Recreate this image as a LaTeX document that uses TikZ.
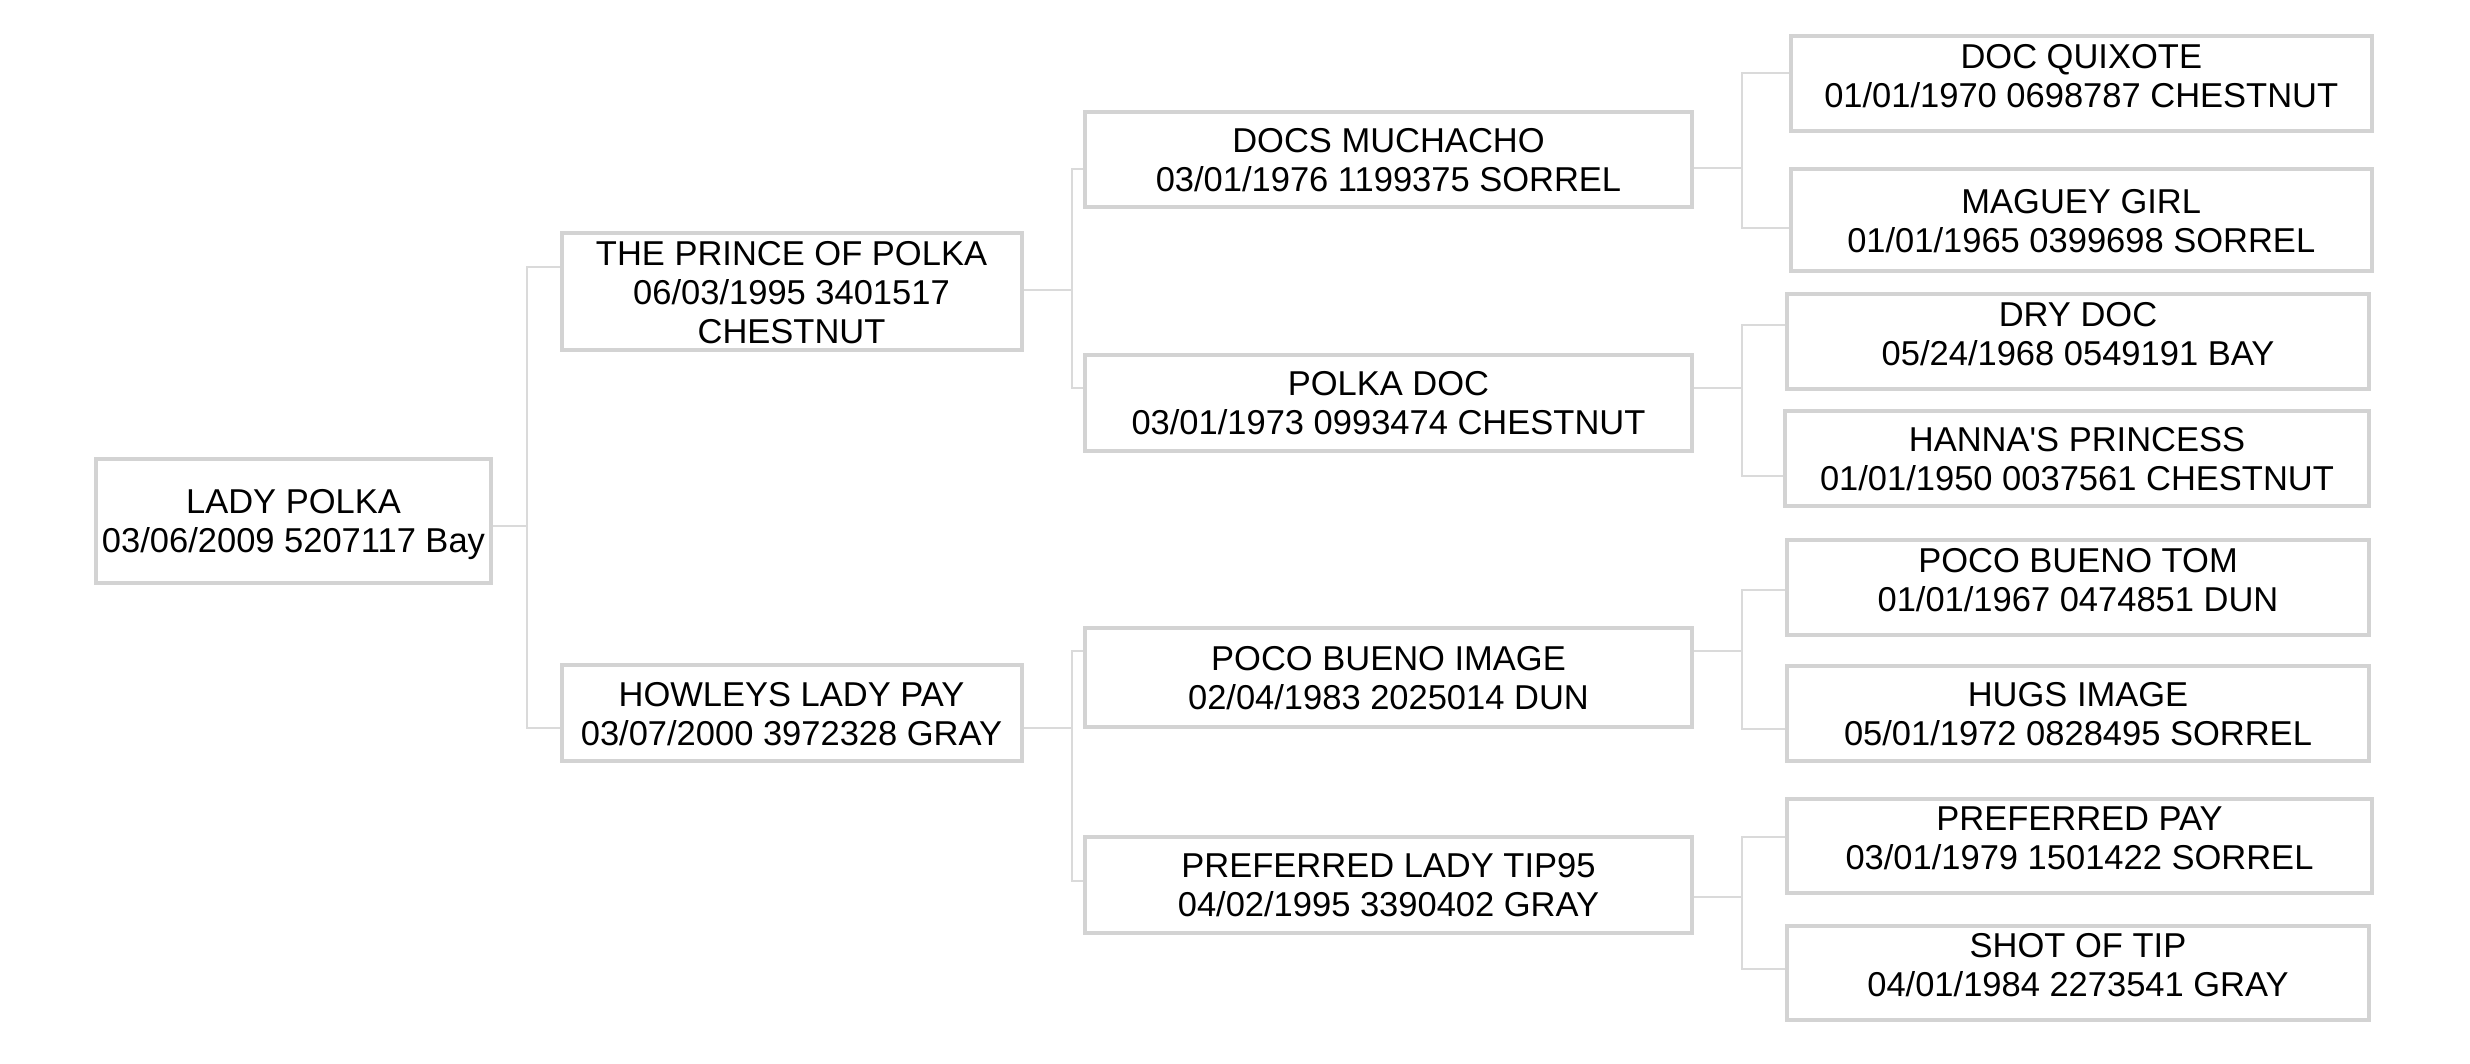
\documentclass[tikz,border=0pt]{standalone}
\usepackage{fontspec}
\setmainfont{Liberation Sans}
\definecolor{boxgray}{HTML}{D3D3D3}
\definecolor{linegray}{HTML}{DADADA}
\newcommand\pedlines[1]{\vtop{\baselineskip=39pt\lineskiplimit=-100pt\lineskip=0pt\halign{\hfil##\hfil\cr#1\crcr}}}
\newcommand\sq{\XeTeXglyph\XeTeXcharglyph"0027\relax}
\tikzset{
  horse/.style={draw=boxgray, line width=4pt, rectangle, inner sep=0pt,
    text=black, text height=24.7pt, text depth=39pt,
    font=\fontsize{34.5}{39}\selectfont},
  horse3/.style={horse, text depth=78pt},
  horsehi/.style={horse, text depth=55pt},
  conn/.style={draw=linegray, line width=2pt},
}
\begin{document}
\begin{tikzpicture}[x=1pt,y=-1pt]
\fill[white] (0,0) rectangle (2470,1064);
\useasboundingbox (0,0) rectangle (2470,1064);

% generation 0
\node[horse, minimum width=395pt, minimum height=124pt] (lp) at (293.5,520.5)
  {\pedlines{LADY POLKA\cr 03/06/2009 5207117 Bay}};

% generation 1
\node[horse3, minimum width=460pt, minimum height=117pt] (prince) at (791.5,292)
  {\pedlines{THE PRINCE OF POLKA\cr 06/03/1995 3401517\cr CHESTNUT}};
\node[horse, minimum width=460pt, minimum height=96.5pt] (howleys) at (791.5,713.2)
  {\pedlines{HOWLEYS LADY PAY\cr 03/07/2000 3972328 GRAY}};

% generation 2
\node[horse, minimum width=607pt, minimum height=95pt] (dm) at (1388.5,160)
  {\pedlines{DOCS MUCHACHO\cr 03/01/1976 1199375 SORREL}};
\node[horse, minimum width=607pt, minimum height=95pt] (pd) at (1388.5,403)
  {\pedlines{POLKA DOC\cr 03/01/1973 0993474 CHESTNUT}};
\node[horse, minimum width=607pt, minimum height=98.5pt] (pbi) at (1388.5,677.7)
  {\pedlines{POCO BUENO IMAGE\cr 02/04/1983 2025014 DUN}};
\node[horse, minimum width=607pt, minimum height=96pt] (plt) at (1388.5,885)
  {\pedlines{PREFERRED LADY TIP95\cr 04/02/1995 3390402 GRAY}};

% generation 3
\node[horsehi, minimum width=581.5pt, minimum height=94.5pt] (dq) at (2081.25,83.75)
  {\pedlines{DOC QUIXOTE\cr 01/01/1970 0698787 CHESTNUT}};
\node[horse, minimum width=581.5pt, minimum height=101.5pt] (mg) at (2081.25,220.25)
  {\pedlines{MAGUEY GIRL\cr 01/01/1965 0399698 SORREL}};
\node[horsehi, minimum width=582pt, minimum height=94.5pt] (dd) at (2078,341.25)
  {\pedlines{DRY DOC\cr 05/24/1968 0549191 BAY}};
\node[horse, minimum width=584pt, minimum height=95.5pt] (hp) at (2077,458.25)
  {\pedlines{HANNA\sq S PRINCESS\cr 01/01/1950 0037561 CHESTNUT}};
\node[horsehi, minimum width=582pt, minimum height=95.5pt] (pbt) at (2078,587.25)
  {\pedlines{POCO BUENO TOM\cr 01/01/1967 0474851 DUN}};
\node[horse, minimum width=582pt, minimum height=95pt] (hi) at (2078,713.5)
  {\pedlines{HUGS IMAGE\cr 05/01/1972 0828495 SORREL}};
\node[horsehi, minimum width=585pt, minimum height=94pt] (pp) at (2079.5,845.5)
  {\pedlines{PREFERRED PAY\cr 03/01/1979 1501422 SORREL}};
\node[horsehi, minimum width=582pt, minimum height=94.5pt] (st) at (2078,972.75)
  {\pedlines{SHOT OF TIP\cr 04/01/1984 2273541 GRAY}};

% fork points (x of the vertical, y of the parent line)
\coordinate (k1) at (527,526.3);
\coordinate (k2) at (1071.7,290);
\coordinate (k3) at (1071.7,727.8);
\coordinate (k4) at (1742.3,168.5);
\coordinate (k5) at (1742.3,388.3);
\coordinate (k6) at (1742.3,650.5);
\coordinate (k7) at (1742.3,897.3);
% heights where the lines meet the children
\coordinate (yprince) at (0,266.6);
\coordinate (yhowleys) at (0,728);
\coordinate (ydm) at (0,169);
\coordinate (ypd) at (0,388.3);
\coordinate (ypbi) at (0,650.5);
\coordinate (yplt) at (0,880.6);
\coordinate (ydq) at (0,72.7);
\coordinate (ymg) at (0,228.3);
\coordinate (ydd) at (0,325);
\coordinate (yhp) at (0,476.2);
\coordinate (ypbt) at (0,589.7);
\coordinate (yhi) at (0,728.5);
\coordinate (ypp) at (0,837.3);
\coordinate (yst) at (0,969.3);

% connectors
\draw[conn] (lp.east |- k1) -- (k1);
\draw[conn] (prince.west |- yprince) -| (k1) |- (howleys.west |- yhowleys);

\draw[conn] (prince.east |- k2) -- (k2);
\draw[conn] (dm.west |- ydm) -| (k2) |- (pd.west |- ypd);

\draw[conn] (howleys.east |- k3) -- (k3);
\draw[conn] (pbi.west |- ypbi) -| (k3) |- (plt.west |- yplt);

\draw[conn] (dm.east |- k4) -- (k4);
\draw[conn] (dq.west |- ydq) -| (k4) |- (mg.west |- ymg);

\draw[conn] (pd.east |- k5) -- (k5);
\draw[conn] (dd.west |- ydd) -| (k5) |- (hp.west |- yhp);

\draw[conn] (pbi.east |- k6) -- (k6);
\draw[conn] (pbt.west |- ypbt) -| (k6) |- (hi.west |- yhi);

\draw[conn] (plt.east |- k7) -- (k7);
\draw[conn] (pp.west |- ypp) -| (k7) |- (st.west |- yst);
\end{tikzpicture}
\end{document}
